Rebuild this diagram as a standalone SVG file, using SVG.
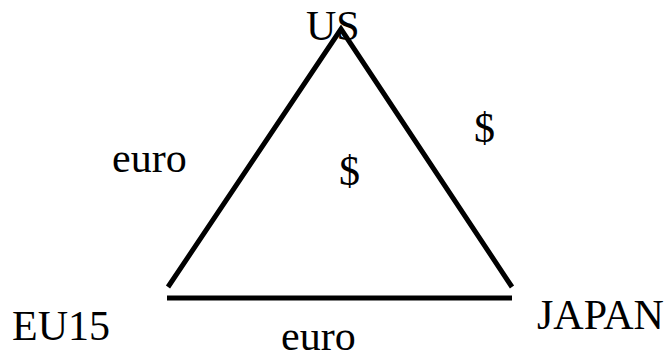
<svg xmlns="http://www.w3.org/2000/svg" width="671" height="360" viewBox="0 0 671 360">
  <style>
    text { font-family: "Liberation Serif", "Times New Roman", serif; font-size: 42px; fill: #000; }
    .edge { stroke: #000; stroke-width: 5; fill: none; stroke-linecap: butt; }
  </style>
  <rect width="671" height="360" fill="#fff"/>
  <g id="connectors">
    <polyline class="edge" points="168,287 341,29 512,287" stroke-linejoin="miter"/>
    <line class="edge" x1="167" y1="298" x2="512" y2="298"/>
  </g>
  <g id="edge-labels">
    <text x="112" y="172">euro</text>
    <text x="474" y="142">$</text>
    <text x="339" y="185">$</text>
    <text x="281" y="350">euro</text>
  </g>
  <g id="node-US">
    <text x="306" y="40">US</text>
  </g>
  <g id="node-EU15">
    <text x="12" y="340">EU15</text>
  </g>
  <g id="node-JAPAN">
    <text x="537" y="329">JAPAN</text>
  </g>
</svg>
